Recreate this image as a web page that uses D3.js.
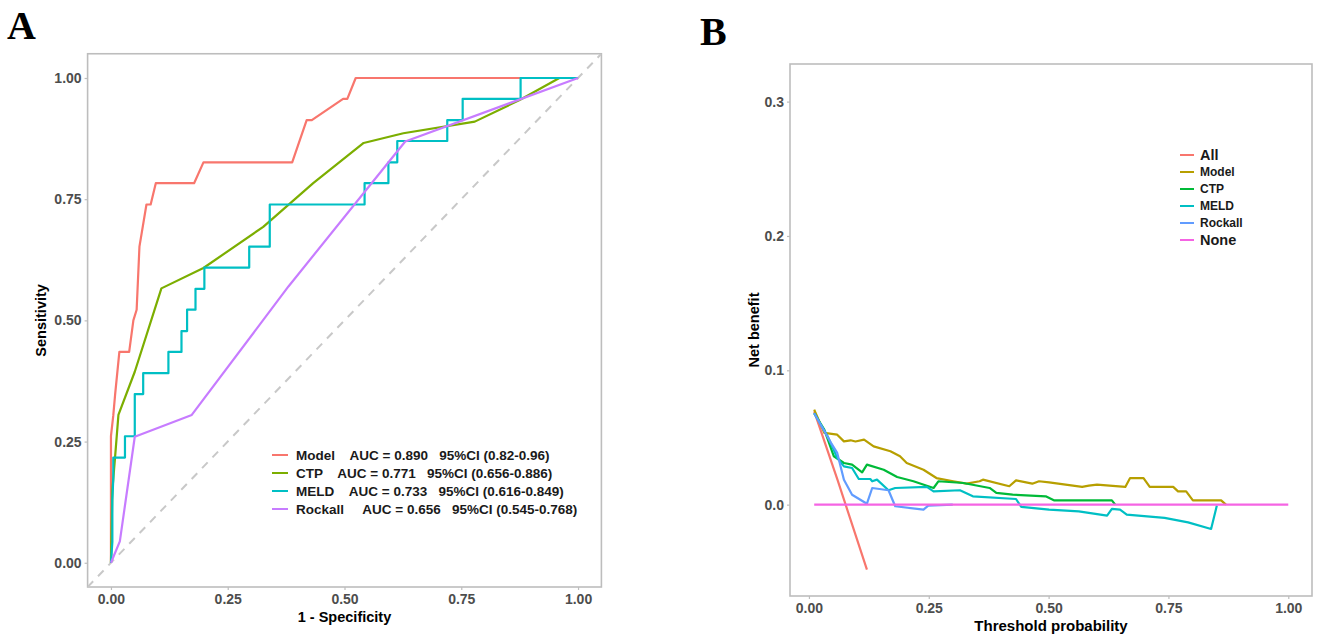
<!DOCTYPE html>
<html>
<head>
<meta charset="utf-8">
<script src="https://cdn.jsdelivr.net/npm/d3@7/dist/d3.min.js"></script>
<style>
  body { margin: 0; background: #fff; }
  text { font-family: "Liberation Sans", Arial, sans-serif; }
</style>
</head>
<body>
<svg id="chart" width="1325" height="643"></svg>
<script>
// ---- panel A : ROC curves (fpr, sensitivity) ----
const rocModel = [[0,0],[0,0.261],[0.005,0.304],[0.009,0.348],[0.018,0.435],[0.039,0.435],[0.048,0.5],[0.055,0.522],
  [0.061,0.652],[0.076,0.739],[0.085,0.739],[0.096,0.783],[0.178,0.783],[0.198,0.826],[0.388,0.826],[0.419,0.913],
  [0.43,0.913],[0.497,0.957],[0.506,0.957],[0.524,1],[1,1]];
const rocCTP = [[0,0],[0.003,0.15],[0.009,0.22],[0.016,0.305],[0.051,0.394],[0.108,0.566],[0.198,0.608],[0.326,0.693],
  [0.433,0.783],[0.541,0.866],[0.626,0.886],[0.779,0.91],[0.876,0.955],[0.96,1],[1,1]];
const rocMELD = [[0,0],[0.003,0.043],[0.003,0.13],[0.005,0.174],[0.005,0.217],[0.03,0.217],[0.03,0.261],[0.051,0.261],
  [0.051,0.348],[0.069,0.348],[0.069,0.391],[0.123,0.391],[0.123,0.435],[0.151,0.435],[0.151,0.478],[0.163,0.478],
  [0.163,0.522],[0.181,0.522],[0.181,0.565],[0.2,0.565],[0.2,0.609],[0.296,0.609],[0.296,0.652],[0.34,0.652],
  [0.34,0.739],[0.543,0.739],[0.543,0.783],[0.594,0.783],[0.594,0.826],[0.613,0.826],[0.613,0.87],[0.72,0.87],
  [0.72,0.913],[0.753,0.913],[0.753,0.957],[0.877,0.957],[0.877,1],[1,1]];
const rocRockall = [[0,0],[0.019,0.044],[0.051,0.26],[0.173,0.305],[0.38,0.57],[0.63,0.869],[1,1]];

const rocNames = ["Model", "CTP", "MELD", "Rockall"];
const rocLabels = [
  "Model    AUC = 0.890   95%CI (0.82-0.96)",
  "CTP    AUC = 0.771   95%CI (0.656-0.886)",
  "MELD    AUC = 0.733   95%CI (0.616-0.849)",
  "Rockall     AUC = 0.656   95%CI (0.545-0.768)"
];
const rocColors = ["#F8766D", "#7CAE00", "#00BFC4", "#C77CFF"];
const rocTicks = [0, 0.25, 0.5, 0.75, 1];

// ---- panel B : decision curves (threshold, net benefit) ----
const dcaAll = [[0.011,0.0695],[0.06,0.018],[0.121,-0.0484]];
const dcaModel = [[0.011,0.0707],[0.032,0.0534],[0.059,0.0521],[0.073,0.0471],[0.087,0.0479],[0.097,0.047],
  [0.115,0.0484],[0.135,0.0434],[0.17,0.0397],[0.19,0.036],[0.204,0.031],[0.239,0.026],[0.266,0.0198],[0.301,0.0174],
  [0.329,0.0156],[0.356,0.0174],[0.363,0.0186],[0.418,0.0137],[0.432,0.0181],[0.466,0.0156],[0.48,0.0174],
  [0.501,0.0166],[0.57,0.0132],[0.584,0.0141],[0.601,0.0149],[0.66,0.0132],[0.67,0.0198],[0.698,0.0198],
  [0.711,0.0132],[0.76,0.0132],[0.77,0.0099],[0.787,0.0099],[0.801,0.0032],[0.86,0.0032],[0.87,0.0]];
const dcaCTP = [[0.011,0.068],[0.032,0.0558],[0.052,0.036],[0.073,0.031],[0.09,0.0298],[0.111,0.024],[0.121,0.0298],
  [0.156,0.026],[0.184,0.0206],[0.218,0.0174],[0.26,0.0124],[0.27,0.0174],[0.322,0.0161],[0.377,0.0124],
  [0.391,0.0087],[0.425,0.0074],[0.494,0.0062],[0.511,0.0032],[0.632,0.0032],[0.639,0.0]];
const dcaMELD = [[0.011,0.068],[0.039,0.0509],[0.059,0.0348],[0.073,0.0285],[0.09,0.0273],[0.104,0.0191],
  [0.128,0.0191],[0.132,0.0174],[0.142,0.0186],[0.166,0.0107],[0.18,0.0124],[0.246,0.0132],[0.26,0.0099],
  [0.315,0.0107],[0.342,0.0062],[0.432,0.0042],[0.443,-0.0017],[0.501,-0.0037],[0.563,-0.005],[0.622,-0.0082],
  [0.632,-0.0032],[0.649,-0.0037],[0.663,-0.0074],[0.742,-0.0099],[0.791,-0.0132],[0.839,-0.0181],[0.851,-0.0007]];
const dcaRockall = [[0.011,0.068],[0.046,0.046],[0.059,0.0385],[0.073,0.0186],[0.09,0.0074],[0.121,0.0007],
  [0.132,0.0124],[0.166,0.0107],[0.18,-0.0012],[0.239,-0.0037],[0.249,-0.0007],[0.3,0]];
const dcaNone = [[0.011,0],[1,0]];

const dcaNames = ["All", "Model", "CTP", "MELD", "Rockall", "None"];
const dcaColors = ["#F8766D", "#B79F00", "#00BA38", "#00BFC4", "#619CFF", "#F564E3"];
const dcaXTicks = [0, 0.25, 0.5, 0.75, 1];
const dcaYTicks = [0, 0.1, 0.2, 0.3];

const svg = d3.select("#chart");
const frameColor = "#BDBDBD";
const tickColor = "#4D4D4D";

function styleAxis(g) {
  g.select(".domain").remove();
  g.selectAll(".tick line").attr("stroke", frameColor).attr("stroke-width", 1.2);
  g.selectAll(".tick text")
    .attr("fill", tickColor)
    .style("font-size", "14px")
    .style("font-weight", "bold");
}

function frame(x0, x1, y0, y1) {
  svg.append("rect")
    .attr("x", x0).attr("y", y0)
    .attr("width", x1 - x0).attr("height", y1 - y0)
    .attr("fill", "none")
    .attr("stroke", frameColor)
    .attr("stroke-width", 1.6);
}

// ---------------------------------------------------------------------
//  panel A
// ---------------------------------------------------------------------
const xA = d3.scaleLinear().domain([-0.05, 1.05]).range([87.6, 601.4]);
const yA = d3.scaleLinear().domain([-0.05, 1.05]).range([587, 53.75]);

svg.append("clipPath").attr("id", "clipA")
  .append("rect")
  .attr("x", xA(-0.05)).attr("y", yA(1.05))
  .attr("width", xA(1.05) - xA(-0.05)).attr("height", yA(-0.05) - yA(1.05));

frame(xA(-0.05), xA(1.05), yA(1.05), yA(-0.05));

svg.append("line")
  .attr("clip-path", "url(#clipA)")
  .attr("x1", xA(-0.05)).attr("y1", yA(-0.05))
  .attr("x2", xA(1.05)).attr("y2", yA(1.05))
  .attr("stroke", "#C8C8C8")
  .attr("stroke-width", 2)
  .attr("stroke-dasharray", "8,7");

const lineA = d3.line().x(d => xA(d[0])).y(d => yA(d[1]));
[rocModel, rocCTP, rocMELD, rocRockall].forEach((s, i) => {
  svg.append("path")
    .datum(s)
    .attr("d", lineA)
    .attr("fill", "none")
    .attr("stroke", rocColors[i])
    .attr("stroke-width", 2.2)
    .attr("stroke-linejoin", "round");
});

svg.append("g")
  .attr("transform", `translate(0,${yA(-0.05)})`)
  .call(d3.axisBottom(xA).tickValues(rocTicks).tickFormat(d3.format(".2f")).tickSize(3).tickPadding(4))
  .call(styleAxis);
svg.append("g")
  .attr("transform", `translate(${xA(-0.05)},0)`)
  .call(d3.axisLeft(yA).tickValues(rocTicks).tickFormat(d3.format(".2f")).tickSize(3).tickPadding(3))
  .call(styleAxis);

svg.append("text")
  .attr("x", (xA(-0.05) + xA(1.05)) / 2).attr("y", 622)
  .attr("text-anchor", "middle")
  .style("font-size", "14.5px").style("font-weight", "bold")
  .text("1 - Specificity");
svg.append("text")
  .attr("transform", `translate(46,${(yA(-0.05) + yA(1.05)) / 2}) rotate(-90)`)
  .attr("text-anchor", "middle")
  .style("font-size", "14.5px").style("font-weight", "bold")
  .text("Sensitivity");

// legend A
const legA = svg.append("g").attr("transform", "translate(272,455)");
rocNames.forEach((n, i) => {
  const row = legA.append("g").attr("transform", `translate(0,${i * 18})`);
  row.append("line").attr("x1", 0).attr("x2", 16).attr("y1", 0).attr("y2", 0)
    .attr("stroke", rocColors[i]).attr("stroke-width", 2);
  row.append("text").attr("x", 24).attr("y", 0).attr("dy", "0.36em")
    .attr("xml:space", "preserve").style("white-space", "pre")
    .style("font-size", "13.5px").style("font-weight", "bold").attr("fill", "#1a1a1a")
    .text(rocLabels[i]);
});

svg.append("text")
  .attr("x", 7).attr("y", 39)
  .style("font-family", "'Liberation Serif', 'Times New Roman', serif")
  .style("font-size", "40px").style("font-weight", "bold")
  .text("A");

// ---------------------------------------------------------------------
//  panel B
// ---------------------------------------------------------------------
const xB = d3.scaleLinear().domain([-0.0395, 1.0495]).range([790, 1312]);
const yB = d3.scaleLinear().domain([-0.068, 0.328]).range([596, 64]);

frame(790, 1312, 64, 596);

const lineB = d3.line().x(d => xB(d[0])).y(d => yB(d[1]));
[dcaAll, dcaModel, dcaCTP, dcaMELD, dcaRockall, dcaNone].forEach((s, i) => {
  svg.append("path")
    .datum(s)
    .attr("d", lineB)
    .attr("fill", "none")
    .attr("stroke", dcaColors[i])
    .attr("stroke-width", 2.2)
    .attr("stroke-linejoin", "round");
});

svg.append("g")
  .attr("transform", "translate(0,596)")
  .call(d3.axisBottom(xB).tickValues(dcaXTicks).tickFormat(d3.format(".2f")).tickSize(3).tickPadding(4))
  .call(styleAxis);
svg.append("g")
  .attr("transform", "translate(790,0)")
  .call(d3.axisLeft(yB).tickValues(dcaYTicks).tickFormat(d3.format(".1f")).tickSize(3).tickPadding(3))
  .call(styleAxis);

svg.append("text")
  .attr("x", 1051).attr("y", 631)
  .attr("text-anchor", "middle")
  .style("font-size", "15px").style("font-weight", "bold")
  .text("Threshold probability");
svg.append("text")
  .attr("transform", "translate(759,330) rotate(-90)")
  .attr("text-anchor", "middle")
  .style("font-size", "14.5px").style("font-weight", "bold")
  .text("Net benefit");

// legend B
const legB = svg.append("g").attr("transform", "translate(1180,155)");
dcaNames.forEach((n, i) => {
  const big = (n === "All" || n === "None");
  const row = legB.append("g").attr("transform", `translate(0,${i * 17})`);
  row.append("line").attr("x1", 0).attr("x2", 14).attr("y1", 0).attr("y2", 0)
    .attr("stroke", dcaColors[i]).attr("stroke-width", 2);
  row.append("text").attr("x", 20).attr("y", 0).attr("dy", "0.36em")
    .style("font-size", big ? "14.5px" : "12px").style("font-weight", "bold").attr("fill", "#1a1a1a")
    .text(n);
});

svg.append("text")
  .attr("x", 700).attr("y", 45)
  .style("font-family", "'Liberation Serif', 'Times New Roman', serif")
  .style("font-size", "40px").style("font-weight", "bold")
  .text("B");
</script>
</body>
</html>
